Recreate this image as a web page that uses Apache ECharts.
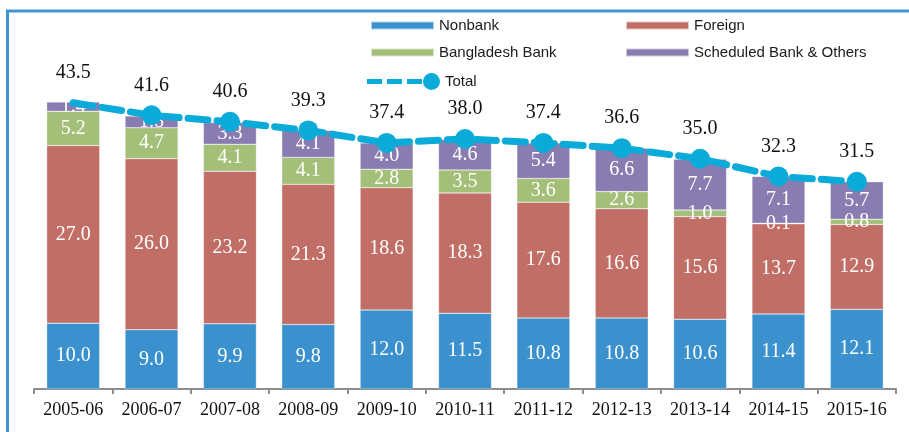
<!DOCTYPE html>
<html>
<head>
<meta charset="utf-8">
<script src="https://cdn.jsdelivr.net/npm/echarts@6/dist/echarts.min.js"></script>
<style>html,body{margin:0;padding:0;background:#fff;}#c{width:909px;height:432px;}</style>
</head>
<body>
<div id="c"></div>
<script>
var categories = ['2005-06','2006-07','2007-08','2008-09','2009-10','2010-11','2011-12','2012-13','2013-14','2014-15','2015-16'];
var nonbank = [10.0, 9.0, 9.9, 9.8, 12.0, 11.5, 10.8, 10.8, 10.6, 11.4, 12.1];
var foreign = [27.0, 26.0, 23.2, 21.3, 18.6, 18.3, 17.6, 16.6, 15.6, 13.7, 12.9];
var bangladeshBank = [5.2, 4.7, 4.1, 4.1, 2.8, 3.5, 3.6, 2.6, 1.0, 0.1, 0.8];
var scheduled = [1.4, 1.8, 3.3, 4.1, 4.0, 4.6, 5.4, 6.6, 7.7, 7.1, 5.7];
var total = [43.5, 41.6, 40.6, 39.3, 37.4, 38.0, 37.4, 36.6, 35.0, 32.3, 31.5];

var serif = 'Liberation Serif, Times New Roman, serif';
var sans = 'Liberation Sans, Arial, sans-serif';
var colors = {nb:'#3b91cd', fo:'#c06e66', bb:'#a3bf78', sc:'#897cb0', tot:'#0aabd8'};

function barSeries(name, data, color){
  return {
    name: name, type: 'bar', stack: 'a', barWidth: 53, data: data,
    itemStyle: {color: color, borderColor: 'rgba(255,255,255,0.6)', borderWidth: 0.5},
    label: {show: true, position: 'inside', color: '#fff', fontFamily: serif, fontSize: 20,
      formatter: function(p){ return p.value.toFixed(1); }}
  };
}
function legendItem(name, left, top, opts){
  var l = {data:[name], left:left, top:top, padding:0, icon:'rect', itemWidth:63, itemHeight:8,
    textStyle:{fontFamily:sans, fontSize:15, color:'#1a1a1a'}};
  for (var k in opts) l[k] = opts[k];
  return l;
}
var totalData = total.map(function(v,i){
  return i === 0 ? {value:v, itemStyle:{color:'rgba(0,0,0,0)'}} : v;
});

var chart = echarts.init(document.getElementById('c'));
chart.setOption({
  animation: false,
  grid: {left: 34, right: 13, top: 60, bottom: 43},
  legend: [
    legendItem('Nonbank', 370, 18),
    legendItem('Foreign', 625, 18),
    legendItem('Bangladesh Bank', 370, 45),
    legendItem('Scheduled Bank & Others', 625, 45),
    legendItem('Total', 367, 73, {
      icon: 'path://M0,6h15v5h-15z M20,6h15v5h-15z M40,6h15v5h-15z M56,8.5a8.5,8.5 0 1,0 17,0a8.5,8.5 0 1,0 -17,0z',
      itemWidth: 73, itemHeight: 17,
      itemStyle: {color: colors.tot, borderWidth: 0},
      lineStyle: {width: 0}
    })
  ],
  xAxis: {
    type: 'category', data: categories,
    axisLine: {lineStyle: {color: '#8c8c8c', width: 2}},
    axisTick: {show: true, length: 5, lineStyle: {color: '#8c8c8c', width: 2}},
    axisLabel: {color: '#111', fontFamily: serif, fontSize: 18, margin: 12}
  },
  yAxis: {type: 'value', min: 0, max: 50, show: false, splitLine: {show: false}},
  series: [
    barSeries('Nonbank', nonbank, colors.nb),
    barSeries('Foreign', foreign, colors.fo),
    barSeries('Bangladesh Bank', bangladeshBank, colors.bb),
    barSeries('Scheduled Bank & Others', scheduled, colors.sc),
    {
      name: 'Total', type: 'line', data: totalData, zlevel: 1,
      symbol: 'circle', symbolSize: 20,
      itemStyle: {color: colors.tot},
      lineStyle: {color: colors.tot, width: 7, type: [20, 9], cap: 'round'},
      label: {show: true, position: 'top', distance: 10, color: '#111', fontFamily: serif, fontSize: 20,
        formatter: function(p){ return (+p.value).toFixed(1); }}
    }
  ],
  graphic: [
    {type: 'polyline', shape: {points: [[7.5, 432], [7.5, 11], [909, 11]]},
     style: {stroke: '#3f95d2', lineWidth: 3, fill: null}}
  ]
});
</script>
</body>
</html>
